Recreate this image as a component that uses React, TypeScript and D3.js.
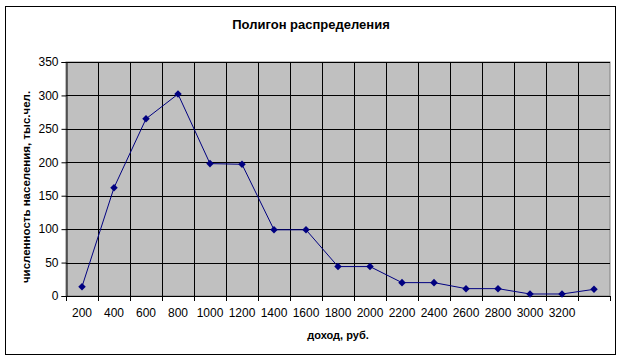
import React, { useEffect, useRef } from 'react'
import * as d3 from 'd3'

const categories: string[] = ['200', '400', '600', '800', '1000', '1200', '1400', '1600', '1800', '2000', '2200', '2400', '2600', '2800', '3000', '3200', '']
const population: number[] = [14, 162, 265, 302, 198, 197, 99, 99, 44, 44, 20, 20, 11, 11, 3, 3, 10]
const yTicks: number[] = [0, 50, 100, 150, 200, 250, 300, 350]

const W = 621
const H = 361

const App: React.FC = () => {
  const svgRef = useRef<SVGSVGElement>(null)

  useEffect(() => {
    if (!svgRef.current) return
    const svg = d3.select(svgRef.current)
    svg.selectAll('*').remove()

    const font = 'Arial, "Liberation Sans", sans-serif'
    const left = 66
    const right = 610
    const top = 62
    const bottom = 296

    // outer frame
    svg.append('rect')
      .attr('x', 5.5).attr('y', 6.5)
      .attr('width', 610).attr('height', 348)
      .attr('fill', '#fff').attr('stroke', '#000')

    const idx = categories.map((_, i) => String(i))
    const x = d3.scaleBand().domain(idx).range([left, right])
    const y = d3.scaleLinear().domain([0, 350]).range([bottom, top])

    svg.append('rect')
      .attr('x', left).attr('y', top)
      .attr('width', right - left).attr('height', bottom - top)
      .attr('fill', '#c0c0c0').attr('stroke', '#808080')

    // horizontal grid
    svg.append('g').selectAll('line')
      .data(yTicks.filter(t => t > 0))
      .enter().append('line')
      .attr('x1', left).attr('x2', right)
      .attr('y1', d => Math.round(y(d)) + 0.5).attr('y2', d => Math.round(y(d)) + 0.5)
      .attr('stroke', '#000')

    // vertical grid
    svg.append('g').selectAll('line')
      .data(idx.slice(1))
      .enter().append('line')
      .attr('x1', d => Math.round(x(d) as number) + 0.5).attr('x2', d => Math.round(x(d) as number) + 0.5)
      .attr('y1', top).attr('y2', bottom)
      .attr('stroke', '#000')

    // y axis
    const yAxis = svg.append('g')
      .attr('transform', `translate(${left + 0.5},0)`)
      .call(d3.axisLeft(y).tickValues(yTicks).tickSize(5).tickPadding(3))
    yAxis.select('.domain').attr('stroke', '#000')
    yAxis.selectAll('text').style('font-family', font).style('font-size', '12px').attr('fill', '#000')

    // x axis with ticks at category boundaries
    const xg = svg.append('g')
    xg.append('line')
      .attr('x1', left).attr('x2', right)
      .attr('y1', bottom + 0.5).attr('y2', bottom + 0.5)
      .attr('stroke', '#000')
    xg.selectAll('.tk')
      .data(d3.range(categories.length + 1))
      .enter().append('line')
      .attr('x1', i => Math.round(left + i * x.step()) + 0.5)
      .attr('x2', i => Math.round(left + i * x.step()) + 0.5)
      .attr('y1', bottom).attr('y2', bottom + 5)
      .attr('stroke', '#000')
    xg.selectAll('text')
      .data(categories)
      .enter().append('text')
      .attr('x', (_, i) => (x(String(i)) as number) + x.bandwidth() / 2)
      .attr('y', 317)
      .attr('text-anchor', 'middle')
      .style('font-family', font).style('font-size', '12px')
      .text(d => d)

    // line
    const line = d3.line<number>()
      .x((_, i) => (x(String(i)) as number) + x.bandwidth() / 2)
      .y(d => y(d))
    svg.append('path')
      .datum(population)
      .attr('fill', 'none')
      .attr('stroke', '#000080')
      .attr('stroke-width', 1)
      .attr('d', line)

    svg.append('g').selectAll('path')
      .data(population)
      .enter().append('path')
      .attr('d', d3.symbol().type(d3.symbolDiamond2).size(36))
      .attr('transform', (d, i) => `translate(${(x(String(i)) as number) + x.bandwidth() / 2},${y(d)})`)
      .attr('fill', '#000080')

    // titles
    svg.append('text')
      .attr('x', 311).attr('y', 29)
      .attr('text-anchor', 'middle')
      .style('font-family', font).style('font-size', '13px').style('font-weight', 'bold')
      .text('Полигон распределения')

    svg.append('text')
      .attr('x', (left + right) / 2).attr('y', 339)
      .attr('text-anchor', 'middle')
      .style('font-family', font).style('font-size', '11px').style('font-weight', 'bold')
      .text('доход, руб.')

    svg.append('text')
      .attr('transform', `translate(30,${(top + bottom) / 2 + 8}) rotate(-90)`)
      .attr('text-anchor', 'middle')
      .style('font-family', font).style('font-size', '11.5px').style('font-weight', 'bold')
      .text('численность населения, тыс.чел.')
  }, [])

  return (
    <div style={{ position: 'absolute', left: 0, top: 0 }}>
      <svg ref={svgRef} width={W} height={H}></svg>
    </div>
  )
}

export default App
